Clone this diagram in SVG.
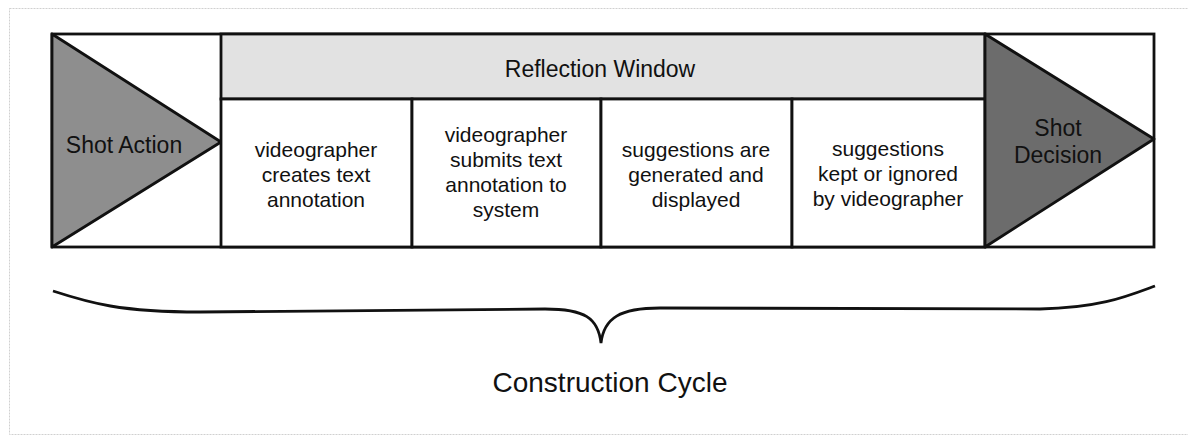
<svg xmlns="http://www.w3.org/2000/svg" width="1188" height="437" viewBox="0 0 1188 437">
<style>
  .ln { stroke: #111; stroke-width: 2.8; fill: none; }
  .cell { fill: #fff; stroke: #111; stroke-width: 2.8; }
  .lbl { font-family: "Liberation Sans", Arial, sans-serif; font-size: 21px; fill: #111; text-anchor: middle; }
  .hdr { font-family: "Liberation Sans", Arial, sans-serif; font-size: 23px; fill: #111; text-anchor: middle; }
</style>
<rect x="0" y="0" width="1188" height="437" fill="#fff"/>
<rect x="9.5" y="8.5" width="1190" height="426" fill="none" stroke="#d0d0d0" stroke-width="1" stroke-dasharray="2 1"/>
<g id="frame">
  <rect class="cell" x="52" y="34" width="1102" height="213"/>
</g>
<g id="shot-action">
  <polygon points="52,34 221,142 52,247" fill="#8e8e8e" stroke="#111" stroke-width="2.8" stroke-linejoin="round"/>
  <text class="hdr" x="124" y="153">Shot Action</text>
</g>
<g id="reflection-window">
  <rect x="221" y="34" width="764" height="65" fill="#e2e2e2" stroke="#111" stroke-width="2.8"/>
  <text class="hdr" x="600" y="77">Reflection Window</text>
</g>
<g id="cell1">
  <rect class="cell" x="221" y="99" width="191" height="148"/>
  <text class="lbl" x="316" y="157">videographer</text>
  <text class="lbl" x="316" y="182">creates text</text>
  <text class="lbl" x="316" y="207">annotation</text>
</g>
<g id="cell2">
  <rect class="cell" x="412" y="99" width="189" height="148"/>
  <text class="lbl" x="506" y="142">videographer</text>
  <text class="lbl" x="506" y="167">submits text</text>
  <text class="lbl" x="506" y="192">annotation to</text>
  <text class="lbl" x="506" y="217">system</text>
</g>
<g id="cell3">
  <rect class="cell" x="601" y="99" width="191" height="148"/>
  <text class="lbl" x="696" y="157">suggestions are</text>
  <text class="lbl" x="696" y="182">generated and</text>
  <text class="lbl" x="696" y="207">displayed</text>
</g>
<g id="cell4">
  <rect class="cell" x="792" y="99" width="193" height="148"/>
  <text class="lbl" x="888" y="156">suggestions</text>
  <text class="lbl" x="888" y="181">kept or ignored</text>
  <text class="lbl" x="888" y="206">by videographer</text>
</g>
<g id="shot-decision">
  <polygon points="985,34 1154,139 985,247" fill="#6c6c6c" stroke="#111" stroke-width="2.8" stroke-linejoin="round"/>
  <text class="hdr" x="1058" y="136">Shot</text>
  <text class="hdr" x="1058" y="163">Decision</text>
</g>
<g id="connectors">
  <path class="ln" d="M53,291 C90,303 120,312 200,312 L545,309 C585,309 598,318 601,343 C604,318 620,308 660,308 L1040,309 C1100,308 1128,296 1155,286"/>
</g>
<g id="construction-cycle">
  <text x="610" y="392" font-family="Liberation Sans, Arial, sans-serif" font-size="28" fill="#111" text-anchor="middle">Construction Cycle</text>
</g>
</svg>
